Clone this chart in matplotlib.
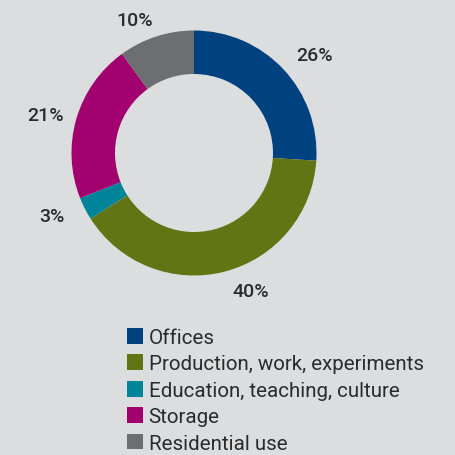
import numpy as np
import matplotlib.pyplot as plt

categories = ['Offices', 'Production, work, experiments', 'Education, teaching, culture',
              'Storage', 'Residential use']
shares = [26, 40, 3, 21, 10]
colors = ['#00427f', '#637414', '#00849a', '#a1006e', '#6d6e71']

# small angular nudges (deg) and radii for the % labels, as in the original layout
label_shift = [-4, 8, -3, 2, 6]
label_r = [155, 149, 155, 153, 146]

bg = '#dcdddf'
txt = '#2b2b2b'

plt.rcParams['font.family'] = ['Roboto', 'DejaVu Sans']

fig = plt.figure(figsize=(4.56, 4.56), dpi=100, facecolor=bg)
ax = fig.add_axes([0, 0, 1, 1])
ax.set_facecolor(bg)
ax.axis('off')

cx, cy = 194, 302
wedges, _, autotexts = ax.pie(
    shares, colors=colors, startangle=90, counterclock=False,
    center=(cx, cy), radius=122.5,
    wedgeprops=dict(width=43.5, linewidth=0),
    autopct='%d%%', pctdistance=1.25,
    textprops=dict(fontsize=14, fontweight='medium', color=txt))
ax.set_xlim(0, 456)
ax.set_ylim(0, 456)
ax.set_aspect('equal')

for w, t, d, r in zip(wedges, autotexts, label_shift, label_r):
    a = np.deg2rad((w.theta1 + w.theta2) / 2 + d)
    t.set_position((cx + r * np.cos(a), cy + r * np.sin(a)))

leg = fig.legend(wedges, categories, loc='upper left',
                 bbox_to_anchor=(127 / 456, 1 - 329 / 456),
                 frameon=False, fontsize=14.8, labelcolor=txt,
                 handlelength=0.8, handleheight=0.8, handletextpad=0.25,
                 labelspacing=0.36, borderpad=0, borderaxespad=0)

fig.savefig('out.png', dpi=100, facecolor=bg)
